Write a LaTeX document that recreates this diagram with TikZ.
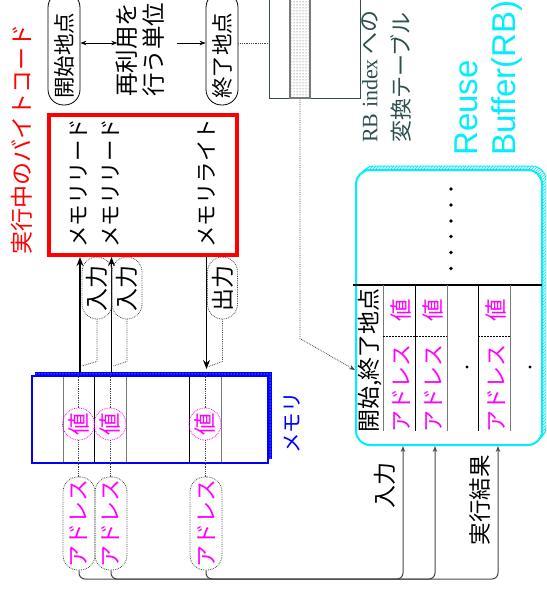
\documentclass[tikz,border=0pt]{standalone}
\usepackage{fontspec}
\setmainfont{Liberation Serif}
\newfontfamily\jp{Noto Sans CJK JP}
\newfontfamily\tms{Liberation Serif}
\newfontfamily\arl{Liberation Sans}
\usetikzlibrary{patterns,arrows.meta,calc}
\definecolor{slate}{RGB}{47,79,79}
\definecolor{mag}{RGB}{255,0,255}
\definecolor{cyn}{RGB}{0,238,255}
\definecolor{dk}{RGB}{70,70,70}
\definecolor{gl}{RGB}{120,120,120}
\newcommand{\vtxt}[1]{\rotatebox{90}{#1}}
\newcommand{\fsz}[1]{\fontsize{#1}{#1}\selectfont}
\begin{document}
\begin{tikzpicture}[x=1pt,y=-1pt,
  >={Stealth[length=6pt,width=4.5pt]},
  txt/.style={inner sep=0pt, font=\jp\fsz{22}},
  stad/.style={draw=black, line width=0.8pt, rounded corners=15.5pt, minimum width=32pt, inner sep=0pt},
  dstad/.style={draw=dk, densely dotted, line width=0.8pt, rounded corners=15pt, inner sep=0pt, minimum width=30pt},
  dotc/.style={draw=dk, densely dotted, line width=0.8pt},
  memarrow/.style={line width=1.8pt, -{Stealth[length=9pt,width=7pt]}},
  botl/.style={draw=dk, line width=1pt},
  cell/.style={txt, text=mag, font=\jp\fsz{22}}
]
\useasboundingbox (0,0) rectangle (546,599);
\clip (0,0) rectangle (546,599);

% title
\node[txt, text=red, font=\jp\fsz{23}] (title) at (22,139) {\vtxt{実行中のバイトコード}};

% top row
\coordinate (rowy) at (0,43);
\node[stad, minimum height=113pt] (start) at (64,48.5) {};
\node[txt, font=\jp\fsz{21.5}] (starttxt) at (64,56) {\vtxt{開始地点}};
\node[stad, minimum height=113pt] (end) at (222,48.5) {};
\node[txt, font=\jp\fsz{21.5}] (endtxt) at (222,56) {\vtxt{終了地点}};
\node[txt, font=\jp\fontsize{23.5}{26}\selectfont] (unit) at (143,50)
  {\vtxt{\begin{tabular}{@{}c@{}}再利用を\\行う単位\end{tabular}}};

% conversion table
\node[draw=slate, line width=0.8pt, minimum width=91pt, minimum height=112pt, inner sep=0pt] (tbl) at (314.5,42) {};
\node[draw=gl, line width=1.2pt, pattern=dots, pattern color=dk, minimum width=20pt, minimum height=112pt, inner sep=0pt] (stripe) at (300,42) {};
\node[txt, text=slate, anchor=south, font=\jp\fontsize{22}{32}\selectfont] (tbltxt) at (387,143)
  {\vtxt{\begin{tabular}{@{}l@{}}{\tms RB index} への\\変換テーブル\end{tabular}}};

\draw[line width=0.7pt, <->] (start.east |- rowy) -- ($(unit.west |- rowy)+(2,0)$);
\draw[line width=0.7pt, ->] ($(unit.east |- rowy)+(6,0)$) -- (end.west |- rowy);
\draw[dotc] (end.east |- rowy) -- (tbl.west |- rowy);

% bytecode box
\node[draw=red, line width=4pt, minimum width=188.3pt, minimum height=140.3pt, inner sep=0pt] (code) at (142.9,184.9) {};
\node[txt, font=\jp\fsz{21.5}] (mr1) at (79,183) {\vtxt{メモリリード}};
\node[txt, font=\jp\fsz{21.5}] (mr2) at (111,183) {\vtxt{メモリリード}};
\node[txt, font=\jp\fsz{21.5}] (mw) at (207,183) {\vtxt{メモリライト}};

% memory
\fill[blue] (35,372) rectangle (272,459);
\fill[pattern=dots, pattern color=white] (35,372) rectangle (272,459);
\node[draw=blue, line width=2pt, fill=white, minimum width=236pt, minimum height=87pt, inner sep=0pt] (mem) at (150,419.5) {};
\foreach \x/\c in {63/gl,94/black,126/gl,189/black,221/gl}
  \draw[\c, line width=1pt] (\x,377) -- (\x,462);
\node[txt, text=blue, font=\jp\fsz{20.5}] (memlbl) at (292,423) {\vtxt{メモリ}};

\foreach \n/\x in {v1/78.5, v2/110, v3/205}
  \node[circle, draw=mag, densely dotted, line width=0.8pt, minimum size=32pt, inner sep=0pt, txt, text=mag, font=\jp\fsz{22.5}] (\n) at (\x,424) {\vtxt{値}};

% addresses
\foreach \n/\x in {ad1/79, ad2/111, ad3/206}
  \node[dstad, minimum width=32pt, minimum height=93pt, cell] (\n) at (\x,523.5) {\vtxt{アドレス}};

\foreach \v/\a in {v1/ad1, v2/ad2, v3/ad3} {
  \draw[dotc] (\v |- mem.north) -- (\v.north);
  \draw[dotc] (\v.south) -- (\v |- \a.north);
}

% read / write arrows
\coordinate (a1) at (80,372);
\coordinate (a2) at (111.5,372);
\coordinate (a3) at (206.5,369);
\draw[memarrow] (a1) -- (a1 |- code.south);
\draw[memarrow] (a2) -- (a2 |- code.south);
\draw[memarrow] (a3 |- code.south) -- (a3);

\node[dstad, minimum height=62pt, txt, font=\jp\fsz{23}] (in1) at (97,288) {\vtxt{入力}};
\node[dstad, minimum height=62pt, txt, font=\jp\fsz{23}] (in2) at (127,288) {\vtxt{入力}};
\node[dstad, minimum height=62pt, txt, font=\jp\fsz{23}] (out1) at (222.5,288) {\vtxt{出力}};
\draw[dotc] (in1.south) -- ++(0,42) -- ($(a1)+(2,-6)$);
\draw[dotc] (in2.south) -- ++(0,42) -- ($(a2)+(2,-6)$);
\draw[dotc] (out1.south) -- ++(0,42) -- ($(a3)+(1,-2)$);

% reuse buffer
\draw[cyn, line width=1pt, rounded corners=14pt, pattern=north east lines, pattern color=cyn] (360,166) rectangle (546,441);
\node[draw=cyn, line width=2pt, rounded corners=14pt, fill=white, minimum width=186pt, minimum height=275pt, inner sep=0pt] (rb) at (449,307.5) {};
\node[anchor=south, text=cyn, inner sep=0pt, font=\arl\fontsize{33}{38}\selectfont] (rbtitle) at (489,156)
  {\vtxt{\begin{tabular}{@{}l@{}}Reuse\\Buffer(RB)\end{tabular}}};

\foreach \y in {189,205,221,236.5,252.5,268.5}
  \fill (451,\y) circle (1.8pt);
\draw[line width=1.5pt] (353,285) -- (542,285);
\foreach \x/\c in {383/gl,415/black,447/gl,478/black,510/gl}
  \draw[\c, line width=1pt] (\x,285) -- (\x,431);
\draw[dash pattern=on 1.5pt off 1.5pt, line width=0.7pt] (383,336) -- (447,336);
\draw[dash pattern=on 1.5pt off 1.5pt, line width=0.7pt] (478,336) -- (510,336);
\node[txt, anchor=south, font=\jp\fsz{23}] (keytxt) at (370,433) {\vtxt{開始,終了地点}};
\foreach \n/\x in {c1/401, c2/433, c4/496} {
  \node[cell, font=\jp\fsz{22.5}] (\n v) at (\x,310) {\vtxt{値}};
  \node[cell] (\n a) at (\x,388) {\vtxt{アドレス}};
}
\fill (467,367) circle (1.6pt);
\fill (530,367) circle (1.6pt);

% table -> key arrow
\coordinate (keyin) at (355,370);
\draw[dotc, ->] (stripe.south) -- ++(0,240) -- (keyin);

% inputs to reuse buffer
\coordinate (r1) at (403,579);
\coordinate (r2) at (435,579);
\coordinate (r3) at (498,579);
\draw[botl, rounded corners=6pt, ->] (ad1.south) |- (r1) -- (r1 |- rb.south);
\draw[botl, rounded corners=6pt, ->] (ad2.south) |- (r2) -- (r2 |- rb.south);
\draw[botl, rounded corners=6pt, ->] (ad3.south) |- (r3) -- (r3 |- rb.south);
\node[txt, font=\jp\fsz{23}] (inlbl) at (385,485) {\vtxt{入力}};
\node[txt, font=\jp\fsz{22.5}] (reslbl) at (480,500) {\vtxt{実行結果}};
\end{tikzpicture}
\end{document}
